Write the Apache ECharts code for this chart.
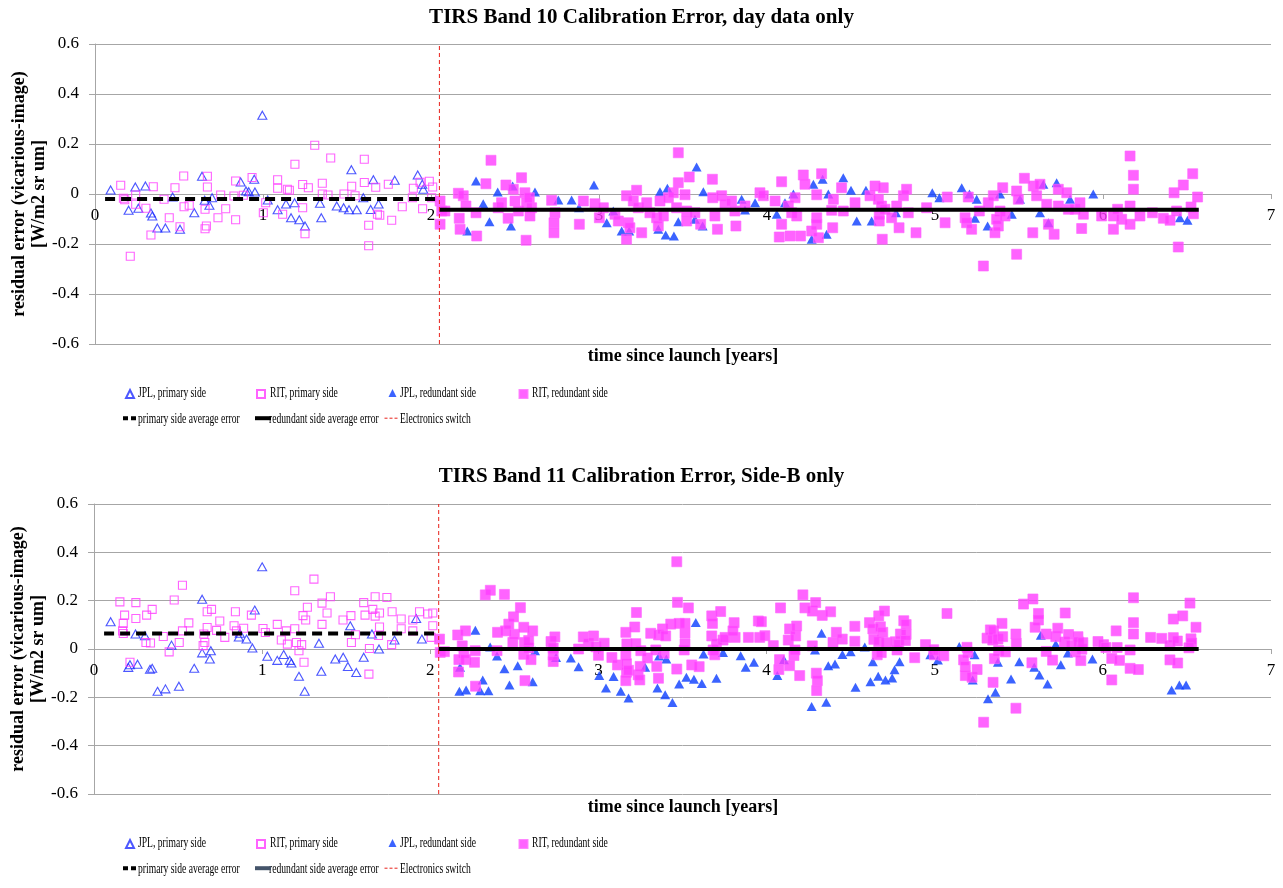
<!DOCTYPE html>
<html>
<head>
<meta charset="utf-8">
<script src="https://cdn.jsdelivr.net/npm/echarts@6/dist/echarts.min.js"></script>
<style>
  html, body { margin: 0; padding: 0; background: #fff; }
  #chart { width: 1283px; height: 888px; }
</style>
</head>
<body>
<div id="chart"></div>
<script>
// ---- TIRS Band 10: residual calibration error [W/m2 sr um] vs years since launch ----
const b10JplPrimary = [
  [0.093,0.016],[0.20,-0.065],[0.24,0.028],[0.258,-0.057],[0.30,0.032],[0.333,-0.076],[0.341,-0.088],
  [0.371,-0.136],[0.419,-0.136],[0.462,-0.012],[0.506,-0.141],[0.591,-0.075],[0.637,0.071],[0.653,-0.025],
  [0.681,-0.045],[0.697,-0.015],[0.867,0.048],[0.899,0.012],[0.915,0.009],[0.948,0.059],[0.952,0.008],
  [0.996,0.315],[1.028,-0.024],[1.087,-0.063],[1.137,-0.04],[1.167,-0.095],[1.188,-0.035],[1.216,-0.103],
  [1.25,-0.128],[1.339,-0.037],[1.347,-0.095],[1.439,-0.048],[1.48,-0.055],[1.512,-0.063],[1.526,0.097],
  [1.558,-0.063],[1.597,-0.015],[1.641,-0.062],[1.657,0.057],[1.688,-0.04],[1.784,0.055],[1.921,0.076],
  [1.948,0.039],[1.954,0.019]
];
const b10RitPrimary = [
  [0.153,0.035],[0.169,-0.017],[0.177,-0.023],[0.21,-0.249],[0.242,-0.004],[0.242,-0.041],[0.303,-0.057],
  [0.333,-0.164],[0.347,0.029],[0.411,-0.021],[0.442,-0.095],[0.476,0.025],[0.506,-0.131],[0.528,0.072],
  [0.53,-0.051],[0.561,-0.045],[0.655,-0.139],[0.663,-0.128],[0.669,0.071],[0.669,0.028],[0.655,-0.061],
  [0.732,-0.095],[0.748,-0.004],[0.778,-0.059],[0.837,0.052],[0.837,-0.103],[0.827,-0.008],[0.883,-0.005],
  [0.935,0.066],[1.016,-0.035],[1.002,-0.075],[1.087,0.057],[1.087,0.023],[1.145,0.019],[1.157,0.015],
  [1.117,-0.081],[1.19,0.119],[1.236,0.038],[1.27,0.025],[1.236,-0.055],[1.25,-0.159],[1.308,0.195],
  [1.353,0.043],[1.353,0.0],[1.387,-0.004],[1.403,0.144],[1.482,0.0],[1.528,0.031],[1.548,-0.007],
  [1.603,0.139],[1.603,0.046],[1.629,-0.125],[1.629,-0.207],[1.671,0.027],[1.681,-0.081],[1.695,-0.085],
  [1.746,0.039],[1.766,-0.105],[1.829,-0.051],[1.889,-0.015],[1.895,0.023],[1.95,-0.059],[1.935,0.047],
  [1.99,0.051],[2.01,0.028],[2.004,-0.015]
];
const b10JplRedundant = [
  [2.268,0.052],[2.311,-0.039],[2.216,-0.148],[2.348,-0.111],[2.397,0.008],[2.476,-0.128],[2.486,0.032],
  [2.619,0.008],[2.758,-0.024],[2.837,-0.024],[2.881,-0.055],[2.97,0.036],[3.046,-0.115],[3.085,-0.068],
  [3.135,-0.148],[3.18,-0.148],[3.353,-0.141],[3.363,0.009],[3.407,0.023],[3.397,-0.164],[3.446,-0.168],
  [3.472,-0.111],[3.581,0.108],[3.571,-0.101],[3.621,0.009],[3.617,-0.128],[3.849,-0.021],[3.869,-0.064],
  [3.929,-0.035],[4.058,-0.081],[4.107,-0.035],[4.157,0.0],[4.276,0.039],[4.266,-0.181],[4.355,-0.161],
  [4.365,0.0],[4.331,0.059],[4.454,0.065],[4.5,0.015],[4.534,-0.108],[4.589,0.015],[4.623,-0.108],
  [4.768,-0.075],[4.984,0.005],[5.026,-0.015],[5.159,0.025],[5.205,0.0],[5.248,-0.021],[5.238,-0.097],
  [5.313,-0.128],[5.387,0.0],[5.457,-0.081],[5.506,-0.021],[5.625,-0.075],[5.645,0.039],[5.675,-0.115],
  [5.724,0.045],[5.804,-0.021],[5.942,0.0],[6.458,-0.095],[6.503,-0.105]
];
const b10RitRedundant = [
  [2.054,-0.028],[2.064,-0.068],[2.054,-0.121],[2.083,-0.068],[2.163,0.003],[2.192,-0.007],[2.208,-0.048],
  [2.168,-0.097],[2.173,-0.141],[2.272,-0.168],[2.268,-0.075],[2.327,0.041],[2.357,0.135],[2.4,-0.055],
  [2.42,-0.035],[2.446,0.036],[2.459,-0.097],[2.49,0.019],[2.5,-0.028],[2.539,0.065],[2.52,-0.068],
  [2.559,0.005],[2.569,-0.035],[2.566,-0.185],[2.589,-0.088],[2.599,-0.055],[2.585,-0.015],[2.718,-0.025],
  [2.738,-0.075],[2.732,-0.115],[2.732,-0.155],[2.883,-0.121],[2.907,-0.028],[2.976,-0.039],[3.026,-0.055],
  [3.002,-0.095],[3.095,-0.081],[3.115,-0.108],[3.164,-0.181],[3.164,-0.007],[3.174,-0.115],[3.184,-0.135],
  [3.224,0.015],[3.204,-0.028],[3.234,-0.055],[3.254,-0.155],[3.284,-0.035],[3.303,-0.075],[3.343,-0.095],
  [3.363,-0.028],[3.353,-0.128],[3.383,-0.088],[3.413,-0.015],[3.442,0.005],[3.472,0.165],[3.472,0.045],
  [3.462,-0.055],[3.512,-0.003],[3.522,-0.068],[3.522,-0.108],[3.537,0.068],[3.571,-0.075],[3.605,-0.121],
  [3.675,0.059],[3.677,-0.015],[3.69,-0.088],[3.705,-0.141],[3.73,-0.007],[3.75,-0.041],[3.789,-0.028],
  [3.809,-0.068],[3.815,-0.128],[3.869,-0.048],[3.958,0.005],[3.978,-0.007],[4.048,-0.028],[4.087,0.049],
  [4.087,-0.121],[4.073,-0.172],[4.137,-0.168],[4.127,-0.048],[4.147,-0.075],[4.167,-0.015],[4.177,-0.088],
  [4.2,-0.168],[4.216,0.076],[4.226,0.039],[4.296,-0.003],[4.296,-0.095],[4.296,-0.121],[4.266,-0.148],
  [4.306,-0.175],[4.325,0.081],[4.395,-0.021],[4.391,-0.135],[4.385,-0.065],[4.444,0.025],[4.454,-0.068],
  [4.524,-0.035],[4.613,-0.007],[4.643,0.032],[4.663,-0.021],[4.692,0.025],[4.682,-0.048],[4.668,-0.081],
  [4.702,-0.061],[4.686,-0.181],[4.668,-0.108],[4.742,-0.095],[4.772,-0.048],[4.786,-0.135],[4.812,-0.007],
  [4.831,0.019],[4.841,-0.075],[4.887,-0.155],[4.95,-0.055],[5.073,-0.012],[5.06,-0.115],[5.179,-0.095],
  [5.188,-0.115],[5.198,-0.012],[5.218,-0.141],[5.264,-0.068],[5.288,-0.288],[5.317,-0.035],[5.347,-0.007],
  [5.357,-0.155],[5.377,-0.128],[5.387,-0.068],[5.403,0.025],[5.367,-0.101],[5.417,-0.088],[5.486,-0.241],
  [5.486,0.012],[5.496,-0.021],[5.532,0.063],[5.582,-0.155],[5.585,0.032],[5.605,-0.007],[5.625,0.039],
  [5.665,-0.041],[5.675,-0.121],[5.709,-0.161],[5.734,0.019],[5.734,-0.048],[5.784,0.005],[5.794,-0.061],
  [5.833,-0.061],[5.863,-0.035],[5.883,-0.081],[5.873,-0.138],[5.992,-0.088],[6.062,-0.088],[6.062,-0.141],
  [6.087,-0.061],[6.111,-0.101],[6.161,0.152],[6.181,0.075],[6.181,0.019],[6.161,-0.048],[6.161,-0.121],
  [6.22,-0.088],[6.294,-0.075],[6.359,-0.097],[6.399,-0.105],[6.423,0.005],[6.438,-0.068],[6.448,-0.212],
  [6.478,0.036],[6.524,-0.052],[6.534,0.081],[6.538,-0.079],[6.563,-0.012]
];

// ---- TIRS Band 11 ----
const b11JplPrimary = [
  [0.099,0.113],[0.204,-0.076],[0.214,-0.065],[0.247,0.062],[0.259,-0.063],[0.303,0.055],[0.333,-0.084],
  [0.346,-0.08],[0.378,-0.175],[0.425,-0.165],[0.461,0.016],[0.505,-0.154],[0.596,-0.08],[0.643,0.206],
  [0.643,-0.016],[0.689,-0.041],[0.695,-0.007],[0.867,0.065],[0.861,0.05],[0.907,0.041],[0.942,0.004],
  [0.956,0.161],[1.0,0.34],[1.031,-0.03],[1.09,-0.047],[1.128,-0.023],[1.164,-0.047],[1.174,-0.058],
  [1.219,-0.113],[1.253,-0.175],[1.338,0.024],[1.352,-0.092],[1.435,-0.041],[1.482,-0.034],[1.51,-0.072],
  [1.524,0.096],[1.56,-0.097],[1.604,-0.034],[1.653,0.062],[1.695,0.0],[1.787,0.037],[1.916,0.126],
  [1.95,0.041]
];
const b11RitPrimary = [
  [0.154,0.195],[0.174,0.106],[0.182,0.14],[0.17,0.075],[0.174,0.064],[0.214,-0.055],[0.249,0.192],
  [0.249,0.126],[0.313,0.14],[0.346,0.164],[0.309,0.027],[0.336,0.025],[0.412,0.052],[0.447,-0.012],
  [0.477,0.203],[0.507,0.027],[0.526,0.264],[0.526,0.075],[0.564,0.108],[0.653,0.062],[0.659,0.027],
  [0.649,0.014],[0.673,0.154],[0.699,0.164],[0.673,0.089],[0.748,0.116],[0.729,0.077],[0.778,0.048],
  [0.841,0.154],[0.833,0.096],[0.847,0.075],[0.89,0.086],[0.936,0.14],[1.005,0.085],[1.019,0.068],
  [1.09,0.102],[1.114,0.037],[1.144,0.075],[1.15,0.02],[1.194,0.241],[1.194,0.084],[1.204,0.027],
  [1.219,-0.007],[1.235,0.018],[1.243,0.138],[1.249,-0.055],[1.259,0.12],[1.269,0.173],[1.308,0.289],
  [1.356,0.19],[1.356,0.102],[1.386,0.149],[1.406,0.216],[1.481,0.12],[1.528,0.138],[1.531,0.027],
  [1.555,0.059],[1.604,0.192],[1.612,0.14],[1.638,0.002],[1.635,-0.104],[1.658,0.164],[1.672,0.216],
  [1.672,0.136],[1.698,0.149],[1.698,0.091],[1.692,0.056],[1.742,0.213],[1.773,0.154],[1.77,0.018],
  [1.827,0.124],[1.827,0.084],[1.896,0.12],[1.896,0.075],[1.936,0.154],[1.985,0.145],[2.015,0.149],
  [2.015,0.096],[2.005,0.048]
];
const b11JplRedundant = [
  [2.177,-0.076],[2.173,-0.175],[2.213,-0.17],[2.268,0.078],[2.297,-0.173],[2.312,-0.128],[2.346,-0.173],
  [2.356,0.008],[2.397,-0.029],[2.441,-0.082],[2.471,-0.149],[2.52,-0.069],[2.609,-0.135],[2.623,-0.007],
  [2.748,-0.035],[2.836,-0.037],[2.882,-0.073],[3.005,-0.11],[3.045,-0.161],[3.09,-0.114],[3.133,-0.175],
  [3.179,-0.203],[3.278,-0.076],[3.351,-0.161],[3.361,-0.029],[3.397,-0.189],[3.404,-0.041],[3.44,-0.221],
  [3.48,-0.145],[3.523,-0.117],[3.568,-0.125],[3.579,0.11],[3.615,-0.143],[3.625,-0.021],[3.702,-0.121],
  [3.741,-0.014],[3.846,-0.028],[3.876,-0.076],[3.925,-0.055],[4.064,-0.11],[4.103,-0.044],[4.268,-0.238],
  [4.288,-0.004],[4.327,0.065],[4.355,-0.22],[4.367,-0.069],[4.407,-0.062],[4.451,-0.023],[4.5,-0.011],
  [4.529,-0.158],[4.584,0.008],[4.618,-0.135],[4.632,-0.053],[4.664,-0.113],[4.707,-0.128],[4.747,-0.12],
  [4.761,-0.086],[4.791,-0.053],[4.974,-0.024],[5.019,-0.045],[5.146,0.01],[5.226,-0.128],[5.237,-0.024],
  [5.317,-0.206],[5.361,-0.179],[5.376,-0.055],[5.454,-0.124],[5.503,-0.053],[5.592,-0.076],[5.623,-0.108],
  [5.631,0.057],[5.671,-0.145],[5.72,0.02],[5.75,-0.065],[5.792,-0.017],[5.938,-0.041],[6.409,-0.17],
  [6.455,-0.149],[6.495,-0.149]
];
const b11RitRedundant = [
  [2.055,0.041],[2.059,-0.014],[2.084,-0.011],[2.163,0.058],[2.19,0.013],[2.209,0.075],[2.2,-0.015],
  [2.17,-0.044],[2.168,-0.095],[2.21,-0.044],[2.263,-0.055],[2.267,-0.007],[2.269,-0.154],[2.327,0.224],
  [2.357,0.243],[2.4,0.069],[2.397,-0.007],[2.441,0.226],[2.447,0.075],[2.467,0.103],[2.495,0.133],
  [2.491,0.027],[2.5,0.061],[2.536,0.171],[2.556,0.09],[2.56,0.027],[2.563,-0.131],[2.556,-0.022],
  [2.585,0.004],[2.599,-0.044],[2.609,0.075],[2.585,0.035],[2.718,0.031],[2.741,0.05],[2.731,0.004],
  [2.731,-0.025],[2.731,-0.052],[2.882,0.0],[2.91,0.05],[2.94,0.023],[2.971,0.054],[2.985,0.009],
  [3.0,-0.026],[3.034,0.024],[3.08,-0.035],[3.113,-0.066],[3.163,0.069],[3.169,0.021],[3.163,-0.025],
  [3.167,-0.061],[3.167,-0.096],[3.163,-0.131],[3.179,-0.088],[3.216,0.091],[3.226,0.151],[3.222,0.022],
  [3.236,-0.107],[3.246,-0.128],[3.248,-0.072],[3.252,-0.007],[3.291,-0.037],[3.311,0.065],[3.341,-0.004],
  [3.347,-0.072],[3.357,-0.121],[3.357,0.058],[3.381,0.083],[3.391,-0.018],[3.4,0.054],[3.43,0.103],
  [3.466,0.361],[3.47,0.193],[3.466,-0.083],[3.48,0.106],[3.515,0.106],[3.515,0.065],[3.515,0.021],
  [3.51,-0.004],[3.535,0.17],[3.555,-0.066],[3.599,-0.073],[3.674,0.137],[3.678,0.106],[3.674,0.054],
  [3.682,-0.004],[3.692,-0.024],[3.702,0.021],[3.727,0.155],[3.741,0.037],[3.753,0.048],[3.807,0.109],
  [3.813,0.048],[3.8,0.075],[3.892,0.048],[3.951,0.116],[3.969,0.113],[3.959,0.048],[3.99,0.055],
  [4.04,0.014],[4.083,0.17],[4.077,-0.044],[4.073,-0.085],[4.137,0.083],[4.129,0.037],[4.137,-0.069],
  [4.163,-0.027],[4.173,0.054],[4.179,0.095],[4.169,-0.004],[4.197,-0.11],[4.216,0.224],[4.228,0.17],
  [4.272,0.157],[4.292,0.192],[4.331,0.139],[4.272,0.013],[4.296,-0.1],[4.302,-0.131],[4.298,-0.172],
  [4.381,0.154],[4.395,0.027],[4.415,0.069],[4.45,0.041],[4.525,0.094],[4.525,0.032],[4.612,0.109],
  [4.667,0.137],[4.701,0.157],[4.632,0.083],[4.677,0.092],[4.691,0.069],[4.638,0.04],[4.667,0.03],
  [4.711,0.026],[4.658,-0.024],[4.682,-0.015],[4.766,0.03],[4.776,-0.004],[4.786,0.018],[4.796,0.062],
  [4.816,0.117],[4.83,0.101],[4.83,0.06],[4.826,0.035],[4.881,-0.036],[4.945,0.018],[4.994,-0.003],
  [4.998,-0.024],[5.054,-0.028],[5.073,0.147],[5.192,0.007],[5.198,-0.014],[5.172,-0.045],[5.182,-0.072],
  [5.182,-0.11],[5.222,-0.117],[5.252,-0.085],[5.291,-0.303],[5.311,0.045],[5.331,0.079],[5.35,0.075],
  [5.345,0.037],[5.376,0.041],[5.4,0.106],[5.404,0.051],[5.38,-0.006],[5.42,-0.012],[5.355,-0.04],
  [5.347,-0.138],[5.483,0.062],[5.485,0.023],[5.483,-0.245],[5.528,0.186],[5.584,0.207],[5.617,0.147],
  [5.617,0.12],[5.597,0.09],[5.578,-0.057],[5.663,0.062],[5.663,-0.01],[5.701,-0.046],[5.72,0.051],
  [5.732,0.086],[5.776,0.149],[5.772,0.029],[5.796,0.06],[5.812,0.015],[5.836,-0.012],[5.852,0.051],
  [5.856,0.029],[5.875,-0.001],[5.881,0.026],[5.869,-0.048],[5.971,0.031],[6.004,0.018],[6.018,0.006],
  [6.053,-0.039],[6.053,-0.128],[6.079,0.075],[6.085,0.006],[6.099,-0.047],[6.162,-0.004],[6.162,-0.08],
  [6.182,0.212],[6.182,0.109],[6.182,0.062],[6.211,-0.085],[6.284,0.048],[6.35,0.044],[6.399,0.014],
  [6.399,-0.045],[6.419,0.124],[6.419,0.047],[6.443,0.033],[6.445,-0.058],[6.475,0.137],[6.518,0.19],
  [6.524,0.042],[6.528,0.025],[6.512,0.005],[6.554,0.09]
];

// Average errors per electronics side and the time of the side switch
const b10AverageError = { primary: -0.02, redundant: -0.063 };
const b11AverageError = { primary: 0.064, redundant: 0.0 };
const primarySpan = [0.06, 2.05];
const redundantSpan = [2.05, 6.57];
const switchTime = 2.05;

const chartTitles = [
  'TIRS Band 10 Calibration Error, day data only',
  'TIRS Band 11 Calibration Error, Side-B only'
];
const xAxisName = 'time since launch [years]';
const yAxisName = 'residual error (vicarious-image)\n[W/m2 sr um]';
const legendNames = [
  'JPL, primary side', 'RIT, primary side', 'JPL, redundant side', 'RIT, redundant side',
  'primary side average error', 'redundant side average error', 'Electronics switch'
];

const FONT = '"Liberation Serif", "Times New Roman", serif';
const GRID_GRAY = '#a6a6a6';
const BLUE_OPEN = '#1f2dff';
const BLUE_FILL = '#0a3cff';
const MAGENTA = '#ff3cff';
const SWITCH_RED = '#e8201a';

const panels = [
  { top: 44, height: 300, left: 95, rit: b10RitPrimary, jpl: b10JplPrimary,
    jplR: b10JplRedundant, ritR: b10RitRedundant, avg: b10AverageError,
    titleTop: 7, xNameTop: 347, legendRows: [393, 419], redundantLegendColor: '#000000' },
  { top: 504, height: 290, left: 94, rit: b11RitPrimary, jpl: b11JplPrimary,
    jplR: b11JplRedundant, ritR: b11RitRedundant, avg: b11AverageError,
    titleTop: 466, xNameTop: 798, legendRows: [843, 869], redundantLegendColor: '#44546a' }
];

const grids = [], xAxes = [], yAxes = [], series = [], titles = [], legends = [], graphics = [];
const hiddenSymbol = { color: 'rgba(0,0,0,0)', borderColor: 'rgba(0,0,0,0)', borderWidth: 0, opacity: 0 };

panels.forEach((p, i) => {
  grids.push({
    left: p.left, right: 12, top: p.top, height: p.height,
    containLabel: false, outerBoundsMode: 'none'
  });

  // x axis drawn through y = 0 (the middle of the symmetric y range)
  xAxes.push({
    gridIndex: i, type: 'value', min: 0, max: 7, interval: 1,
    position: 'bottom', offset: -p.height / 2,
    axisLine: { onZero: false, lineStyle: { color: GRID_GRAY, width: 1 } },
    axisTick: { show: true, length: 5, lineStyle: { color: GRID_GRAY } },
    axisLabel: { fontFamily: FONT, fontSize: 17, color: '#000', margin: 13 },
    splitLine: { show: false }
  });

  yAxes.push({
    gridIndex: i, type: 'value', min: -0.6, max: 0.6, interval: 0.2,
    name: yAxisName, nameLocation: 'middle', nameRotate: 90, nameGap: 46, nameMoveOverlap: false,
    nameTextStyle: { fontFamily: FONT, fontSize: 18, fontWeight: 'bold', color: '#000', lineHeight: 20 },
    axisLine: { show: true, onZero: false, lineStyle: { color: GRID_GRAY, width: 1 } },
    axisTick: { show: true, length: 6, lineStyle: { color: GRID_GRAY } },
    axisLabel: {
      fontFamily: FONT, fontSize: 17, color: '#000', margin: 16,
      formatter: v => (Math.abs(v) < 1e-9 ? '0' : v.toFixed(1))
    },
    splitLine: { show: true, lineStyle: { color: GRID_GRAY, width: 1 } }
  });

  const axisRef = { xAxisIndex: i, yAxisIndex: i };

  series.push(Object.assign({
    name: legendNames[0], type: 'scatter', data: p.jpl, symbol: 'triangle', symbolSize: [9, 8],
    itemStyle: { color: 'rgba(255,255,255,0)', borderColor: BLUE_OPEN, borderWidth: 1.1 }
  }, axisRef));
  series.push(Object.assign({
    name: legendNames[1], type: 'scatter', data: p.rit, symbol: 'rect', symbolSize: 8,
    itemStyle: { color: 'rgba(255,255,255,0)', borderColor: MAGENTA, borderWidth: 1.1 }
  }, axisRef));
  series.push(Object.assign({
    name: legendNames[4], type: 'line', symbol: 'none', silent: true, color: '#000',
    data: [[primarySpan[0], p.avg.primary], [primarySpan[1], p.avg.primary]],
    lineStyle: { color: '#000', width: 4, type: [10, 6] }
  }, axisRef));
  series.push(Object.assign({
    name: legendNames[5], type: 'line', symbol: 'none', silent: true, color: '#000',
    data: [[redundantSpan[0], p.avg.redundant], [redundantSpan[1], p.avg.redundant]],
    lineStyle: { color: '#000', width: 4, type: 'solid' }
  }, axisRef));
  series.push(Object.assign({
    name: legendNames[2], type: 'scatter', data: p.jplR, symbol: 'triangle', symbolSize: [10, 9],
    itemStyle: { color: BLUE_FILL }
  }, axisRef));
  series.push(Object.assign({
    name: legendNames[3], type: 'scatter', data: p.ritR, symbol: 'rect', symbolSize: 10,
    itemStyle: { color: MAGENTA, borderColor: '#ff66ff', borderWidth: 0.8 }
  }, axisRef));
  series.push(Object.assign({
    name: legendNames[6], type: 'line', symbol: 'none', silent: true, color: SWITCH_RED,
    data: [[switchTime, -0.6], [switchTime, 0.6]],
    lineStyle: { color: SWITCH_RED, width: 1, type: [4, 3] }
  }, axisRef));

  titles.push({
    text: chartTitles[i], left: 'center', top: p.titleTop, padding: 0,
    textStyle: { fontFamily: FONT, fontSize: 21, fontWeight: 'bold', color: '#000' }
  });
  titles.push({
    text: xAxisName, left: 683, textAlign: 'center', top: p.xNameTop, padding: 0,
    textStyle: { fontFamily: FONT, fontSize: 18, fontWeight: 'bold', color: '#000' }
  });

  // legend icons, with condensed labels placed beside them
  const [r1, r2] = p.legendRows;
  const iconSpecs = [
    { n: 0, left: 125, cy: r1, w: 8, h: 8 },
    { n: 1, left: 256, cy: r1, w: 8, h: 8 },
    { n: 2, left: 388.5, cy: r1, w: 8, h: 8 },
    { n: 3, left: 518.5, cy: r1, w: 8, h: 8 },
    { n: 4, left: 121, cy: r2, w: 16, h: 8 },
    { n: 5, left: 253, cy: r2, w: 16, h: 8 },
    { n: 6, left: 384, cy: r2, w: 15, h: 8 }
  ];
  const textLefts = [138, 270, 400, 532, 138, 269, 400];
  iconSpecs.forEach((s, k) => {
    const item = { name: legendNames[s.n] };
    if (s.n >= 4) {
      item.itemStyle = hiddenSymbol;
      if (s.n === 4) item.lineStyle = { color: '#000', width: 4, type: [5, 3] };
      if (s.n === 5) item.lineStyle = { color: p.redundantLegendColor, width: 4 };
      if (s.n === 6) item.lineStyle = { color: SWITCH_RED, width: 1, type: [3, 2] };
    }
    legends.push({
      left: s.left, top: s.cy - s.h / 2, padding: 0, itemGap: 0,
      itemWidth: s.w, itemHeight: s.h, selectedMode: false,
      data: [item], formatter: () => '',
      textStyle: { fontSize: 8, lineHeight: 8 }
    });
    graphics.push({
      type: 'text', x: textLefts[k], y: s.cy, scaleX: 0.62, silent: true,
      style: {
        text: legendNames[s.n], fill: '#000', font: '15.5px ' + FONT,
        align: 'left', verticalAlign: 'middle'
      }
    });
  });
});

const chart = echarts.init(document.getElementById('chart'), null, { renderer: 'canvas' });
chart.setOption({
  backgroundColor: '#ffffff',
  animation: false,
  title: titles,
  grid: grids,
  xAxis: xAxes,
  yAxis: yAxes,
  legend: legends,
  series: series,
  graphic: graphics
});
</script>
</body>
</html>
